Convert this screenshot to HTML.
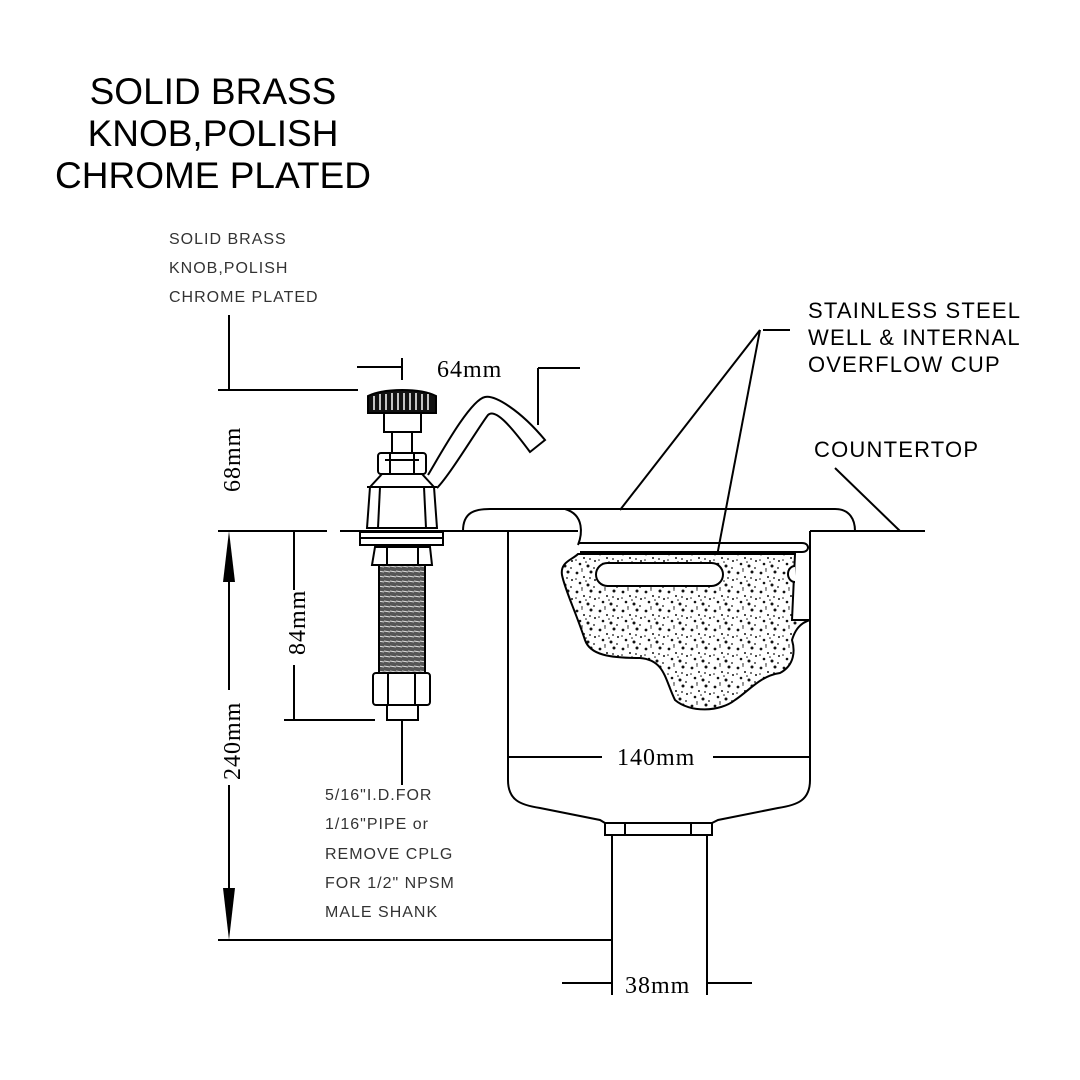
<!DOCTYPE html>
<html><head><meta charset="utf-8"><style>
html,body{margin:0;padding:0;background:#fff}
svg{display:block}
.t{font-family:"Liberation Sans",sans-serif}
.s{font-family:"Liberation Serif",serif}
</style></head><body>
<svg width="1080" height="1080" viewBox="0 0 1080 1080" xmlns="http://www.w3.org/2000/svg">
<defs>
<pattern id="sp" width="23" height="19" patternUnits="userSpaceOnUse">
<rect width="23" height="19" fill="#fff"/>
<circle cx="2" cy="3" r="1.4" fill="#111"/><circle cx="9" cy="7" r="1" fill="#111"/>
<circle cx="16" cy="2" r="1.5" fill="#111"/><circle cx="20" cy="10" r="1" fill="#111"/>
<circle cx="5" cy="13" r="1.3" fill="#111"/><circle cx="13" cy="15" r="1.5" fill="#111"/>
<circle cx="19" cy="17" r="0.9" fill="#111"/><circle cx="11" cy="11" r="0.8" fill="#111"/>
<circle cx="1" cy="9" r="0.8" fill="#111"/><circle cx="7" cy="18" r="0.8" fill="#111"/>
<circle cx="15" cy="8" r="0.9" fill="#111"/><circle cx="7" cy="1" r="0.7" fill="#111"/>
</pattern>
<pattern id="th" width="6" height="5" patternUnits="userSpaceOnUse">
<rect width="6" height="5" fill="#555"/><line x1="0" y1="1" x2="6" y2="2" stroke="#ddd" stroke-width="1"/>
</pattern>
</defs>
<g class="t" font-size="37" fill="#000" text-anchor="middle">
<text x="213" y="104">SOLID BRASS</text>
<text x="213" y="146">KNOB,POLISH</text>
<text x="213" y="188">CHROME PLATED</text>
</g>
<g class="t" font-size="16" fill="#333" letter-spacing="1">
<text x="169" y="244">SOLID BRASS</text>
<text x="169" y="273">KNOB,POLISH</text>
<text x="169" y="302">CHROME PLATED</text>
<text x="325" y="800">5/16"I.D.FOR</text>
<text x="325" y="829">1/16"PIPE or</text>
<text x="325" y="859">REMOVE CPLG</text>
<text x="325" y="888">FOR 1/2" NPSM</text>
<text x="325" y="917">MALE SHANK</text>
</g>
<g class="t" font-size="22" fill="#000" letter-spacing="1.2">
<text x="808" y="318">STAINLESS STEEL</text>
<text x="808" y="345">WELL &amp; INTERNAL</text>
<text x="808" y="372">OVERFLOW CUP</text>
<text x="814" y="457">COUNTERTOP</text>
</g>
<g stroke="#000" stroke-width="2" fill="none">
<line x1="229" y1="315" x2="229" y2="390"/><line x1="218" y1="390" x2="358" y2="390"/>
<line x1="218" y1="531" x2="327" y2="531"/>
<line x1="229" y1="560" x2="229" y2="690"/><line x1="229" y1="785" x2="229" y2="910"/>
<line x1="218" y1="940" x2="612" y2="940"/>
<line x1="294" y1="531" x2="294" y2="590"/><line x1="294" y1="665" x2="294" y2="720"/>
<line x1="284" y1="720" x2="375" y2="720"/>
<line x1="402" y1="720" x2="402" y2="785"/>
<line x1="402" y1="358" x2="402" y2="380"/><line x1="357" y1="367" x2="402" y2="367"/>
<line x1="538" y1="368" x2="538" y2="425"/><line x1="538" y1="368" x2="580" y2="368"/>
<line x1="340" y1="531" x2="578" y2="531"/>
<line x1="810" y1="531" x2="925" y2="531"/>
<line x1="835" y1="468" x2="900" y2="531"/>
<line x1="763" y1="330" x2="790" y2="330"/>
<line x1="760" y1="330" x2="620" y2="510"/>
<line x1="760" y1="330" x2="717" y2="556"/>
<line x1="508" y1="757" x2="602" y2="757"/><line x1="713" y1="757" x2="810" y2="757"/>
<line x1="612" y1="940" x2="612" y2="995"/><line x1="707" y1="940" x2="707" y2="995"/>
<line x1="562" y1="983" x2="612" y2="983"/><line x1="707" y1="983" x2="752" y2="983"/>
</g>
<polygon points="229,531 223,582 235,582" fill="#000"/>
<polygon points="229,940 223,888 235,888" fill="#000"/>
<g class="s" font-size="24" fill="#000" letter-spacing="1">
<text x="437" y="377">64mm</text>
<text x="617" y="765">140mm</text>
<text x="625" y="993">38mm</text>
<text transform="translate(240,492) rotate(-90)">68mm</text>
<text transform="translate(305,655) rotate(-90)">84mm</text>
<text transform="translate(240,780) rotate(-90)">240mm</text>
</g>
<g stroke="#000" stroke-width="2" fill="none">
<path d="M463,531 C463,512 475,509 490,509 L835,509 C850,509 855,520 855,531"/>
<path d="M508,531 L508,780 C508,800 520,805 540,808 L600,820 L605,823 M810,531 L810,780 C810,800 798,805 778,808 L718,820 L712,823"/>
<rect x="605" y="823" width="107" height="12"/>
<line x1="625" y1="823" x2="625" y2="835"/><line x1="691" y1="823" x2="691" y2="835"/>
<line x1="612" y1="835" x2="612" y2="940"/><line x1="707" y1="835" x2="707" y2="940"/>
<path d="M578,543 L802,543 C810,543 810,552 802,552 L580,552"/>
</g>
<path d="M578,554 C572,560 560,562 562,575 C565,590 575,610 585,640 C590,655 610,658 640,658 C665,660 665,680 675,700 C690,713 720,712 735,700 C750,690 760,676 780,673 C795,665 795,650 792,640 C795,630 800,623 810,620 L792,620 L795,554 Z" fill="url(#sp)" stroke="#000" stroke-width="2"/>
<path d="M565,509 C585,515 582,535 578,545" fill="none" stroke="#000" stroke-width="2"/>
<rect x="596" y="563" width="127" height="23" rx="11.5" fill="#fff" stroke="#000" stroke-width="2"/>
<path d="M795,566 A7,8 0 0 0 795,582" fill="#fff" stroke="#000" stroke-width="2"/>
<g stroke="#000" stroke-width="2" fill="#fff">
<path d="M428,475 C440,455 470,400 485,397 C495,395 520,410 545,440 L530,452 C510,425 495,408 488,415 C480,425 450,475 437,488"/>
<path d="M370,487 L382,474 L422,474 L434,487 L437,528 L367,528 Z"/>
<line x1="380" y1="487" x2="378" y2="528"/><line x1="424" y1="487" x2="426" y2="528"/>
<line x1="367" y1="487" x2="437" y2="487"/>
<rect x="378" y="453" width="48" height="21" rx="3"/>
<line x1="390" y1="453" x2="390" y2="474"/><line x1="414" y1="453" x2="414" y2="474"/>
<line x1="385" y1="460" x2="419" y2="460"/>
<rect x="392" y="430" width="20" height="23"/>
<rect x="384" y="412" width="37" height="20"/>
<path d="M368,396 C385,388 420,388 436,396 L436,413 L368,413 Z" fill="#111"/>
<rect x="360" y="532" width="83" height="13"/>
<line x1="360" y1="538" x2="443" y2="538"/>
<path d="M375,547 L430,547 L432,565 L372,565 Z"/>
<line x1="387" y1="547" x2="387" y2="565"/><line x1="418" y1="547" x2="418" y2="565"/>
<rect x="379" y="565" width="46" height="108" fill="url(#th)"/>
<rect x="373" y="673" width="57" height="32" rx="3"/>
<line x1="388" y1="673" x2="388" y2="705"/><line x1="415" y1="673" x2="415" y2="705"/>
<rect x="387" y="705" width="31" height="15"/>
</g>
<g stroke="#fff" stroke-width="1.5">
<line x1="374" y1="396" x2="374" y2="410"/><line x1="380" y1="394" x2="380" y2="410"/>
<line x1="386" y1="394" x2="386" y2="410"/><line x1="392" y1="393" x2="392" y2="410"/>
<line x1="398" y1="393" x2="398" y2="410"/><line x1="404" y1="393" x2="404" y2="410"/>
<line x1="410" y1="393" x2="410" y2="410"/><line x1="416" y1="393" x2="416" y2="410"/>
<line x1="422" y1="394" x2="422" y2="410"/><line x1="428" y1="394" x2="428" y2="410"/>
</g>
</svg>
</body></html>
